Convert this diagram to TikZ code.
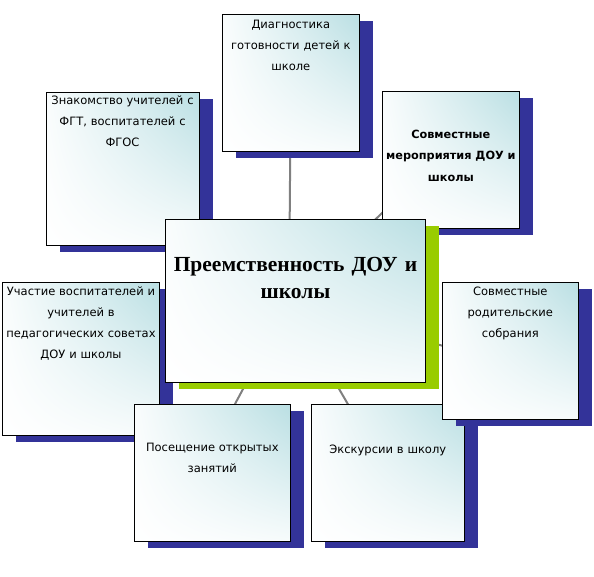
\documentclass[tikz,border=0pt]{standalone}
\usepackage{fontspec}
\setmainfont{DejaVu Sans}
\newfontfamily\titlefont{Liberation Serif}
\usetikzlibrary{shadows,shadings,backgrounds}
\definecolor{navyc}{HTML}{333399}
\definecolor{greenc}{HTML}{99CC00}
\definecolor{tealc}{HTML}{BADFE3}
\definecolor{linec}{HTML}{808080}
\newcommand{\fstrut}{\rule{0pt}{14pt}}
\newcommand{\tstrut}{\rule{0pt}{20pt}}
\begin{document}
\begin{tikzpicture}[x=1pt,y=-1pt,
  boxbase/.style={draw=black, line width=0.9pt, rectangle, inner sep=0pt, outer sep=0pt, anchor=north west,
     upper left=white!92!tealc, upper right=tealc, lower left=white, lower right=white!88!tealc},
  navybox/.style={boxbase, general shadow={fill=navyc, shadow xshift=13.5pt, shadow yshift=-6.5pt}},
  greenbox/.style={boxbase, general shadow={fill=greenc, shadow xshift=13.5pt, shadow yshift=-6.5pt}},
  boxtext/.style={anchor=north, inner sep=0pt, align=center, font=\fontsize{11.5}{21}\selectfont},
  titletext/.style={anchor=north, inner sep=0pt, align=center, font=\titlefont\bfseries\fontsize{21.5}{27}\selectfont},
  conn/.style={draw=linec, line width=2pt}]
\useasboundingbox (0,0) rectangle (594,576);

\node[navybox, minimum width=153pt, minimum height=152.7pt] (znak) at (46,92.3) {};
\node[navybox, minimum width=137pt, minimum height=136.7pt] (diag) at (222.3,14.3) {};
\node[navybox, minimum width=137pt, minimum height=137pt] (sovm) at (382.3,91) {};
\node[navybox, minimum width=156.6pt, minimum height=153.4pt] (uch) at (2.7,282.3) {};
\node[greenbox, minimum width=259.6pt, minimum height=163pt] (center) at (165.7,219.3) {};
\node[navybox, minimum width=156pt, minimum height=136.7pt] (pos) at (134.3,404.3) {};
\node[navybox, minimum width=153pt, minimum height=136.7pt] (eks) at (311.3,404.3) {};
\node[navybox, minimum width=136pt, minimum height=136.7pt] (rod) at (442.3,282.3) {};

\coordinate (hub) at (289,303);
\begin{scope}[on background layer]
  \draw[conn] (hub) -- (diag.center);
  \draw[conn] (hub) -- (znak.center);
  \draw[conn] (hub) -- ([yshift=13pt]sovm.center);
  \draw[conn] (hub) -- (uch.center);
  \draw[conn] (hub) -- ([yshift=-14pt]rod.center);
  \draw[conn] (hub) -- ([xshift=-14pt]pos.center);
  \draw[conn] (hub) -- (eks.center);
\end{scope}

\node[boxtext, text width=152pt] (znakt) at (122.5,90.7) {\fstrut Знакомство учителей с\\ФГТ, воспитателей с\\ФГОС};
\node[boxtext, text width=136pt] (diagt) at (290.8,14) {\fstrut Диагностика\\готовности детей к\\школе};
\node[boxtext, text width=136pt, font=\bfseries\fontsize{11.3}{21.5}\selectfont] (sovmt) at (450.8,124) {\fstrut Совместные\\мероприятия ДОУ и\\школы};
\node[boxtext, text width=156pt] (ucht) at (81,281.7) {\fstrut Участие воспитателей и\\учителей в\\педагогических советах\\ДОУ и школы};
\node[titletext, text width=259pt] (centert) at (295.5,251) {\tstrut Преемственность ДОУ и\\школы};
\node[boxtext, text width=155pt] (post) at (212.3,437.7) {\fstrut Посещение открытых\\занятий};
\node[boxtext, text width=152pt] (ekst) at (387.8,439) {\fstrut Экскурсии в школу};
\node[boxtext, text width=135pt] (rodt) at (510.3,281.7) {\fstrut Совместные\\родительские\\собрания};
\end{tikzpicture}
\end{document}
